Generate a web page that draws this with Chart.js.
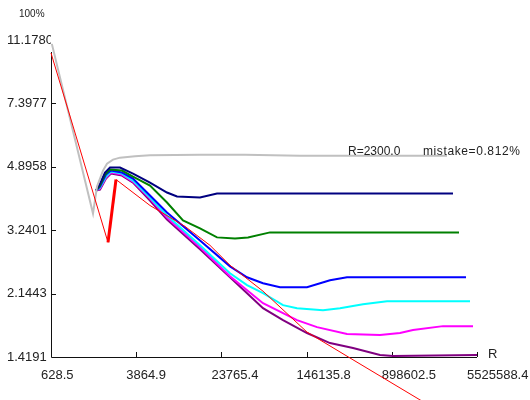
<!DOCTYPE html>
<html>
<head>
<meta charset="utf-8">
<script src="https://cdn.jsdelivr.net/npm/chart.js@4.4.1/dist/chart.umd.min.js"></script>
<style>
html,body{margin:0;padding:0;background:#fff;}
canvas{display:block;}
</style>
</head>
<body>
<canvas id="c" width="530" height="400"></canvas>
<script>
// axis ticks and their printed labels
const rTicks = [628.5, 3864.9, 23765.4, 146135.8, 898602.5, 5525588.4];
const rTickLabels = ['628.5', '3864.9', '23765.4', '146135.8', '898602.5', '5525588.4'];
const errTicks = [1.4191, 2.1443, 3.2401, 4.8958, 7.3977, 11.1780];
const errTickLabels = ['1.4191', '2.1443', '3.2401', '4.8958', '7.3977', '11.1780'];

// error curves: R on the horizontal axis, error (%) on the vertical axis
const grayR = [640, 1539, 1676, 1904, 2074, 2357, 2736, 3767, 5186, 15060, 39312, 126960, 2914000];
const grayErr = [10.9, 3.613, 4.305, 4.777, 4.998, 5.130, 5.197, 5.248, 5.282, 5.299, 5.299, 5.265, 5.265];

const redR = [628.5, 2119, 2513, 5186, 10938, 18635, 28549, 57690, 147383, 368620, 2509000];
const redErr = [10.27, 2.993, 4.506, 3.806, 3.321, 2.936, 2.578, 2.178, 1.669, 1.410, 0.993];

const navyR = [1640, 1786, 1987, 2211, 2736, 3610, 5186, 7452, 9224, 15060, 21640, 43724, 3312000];
const navyErr = [4.195, 4.390, 4.715, 4.871, 4.871, 4.685, 4.418, 4.141, 4.035, 4.009, 4.114, 4.114, 4.114];

const greenR = [1640, 1786, 1987, 2211, 2855, 3610, 5186, 7452, 10482, 15060, 21640, 31759, 41904, 66973, 3765000];
const greenErr = [4.195, 4.333, 4.654, 4.808, 4.777, 4.594, 4.333, 3.881, 3.453, 3.278, 3.092, 3.072, 3.092, 3.194, 3.194];

const blueR = [1640, 1786, 2030, 2258, 2855, 3610, 5186, 7452, 15060, 28549, 41022, 57690, 82886, 147383, 240650, 345740, 4370000];
const blueErr = [4.195, 4.305, 4.654, 4.777, 4.715, 4.535, 4.061, 3.637, 3.032, 2.561, 2.385, 2.294, 2.235, 2.235, 2.339, 2.385, 2.385];

const cyanR = [1640, 1786, 2030, 2258, 2855, 3610, 5186, 7452, 15060, 28549, 41022, 57690, 88367, 119100, 207340, 297850, 486330, 811080, 4760000];
const cyanErr = [4.195, 4.278, 4.594, 4.746, 4.685, 4.476, 4.009, 3.567, 2.936, 2.448, 2.265, 2.150, 1.989, 1.950, 1.925, 1.950, 2.002, 2.041, 2.041];

const magentaR = [1640, 1786, 2030, 2258, 2855, 3610, 5186, 7452, 15060, 28549, 57690, 119100, 182390, 345740, 698640, 1070150, 1411600, 2676000, 5074000];
const magentaErr = [4.195, 4.250, 4.565, 4.715, 4.654, 4.447, 3.983, 3.521, 2.898, 2.401, 2.015, 1.804, 1.724, 1.648, 1.637, 1.659, 1.691, 1.735, 1.735];

const purpleR = [1640, 1786, 2030, 2258, 2855, 3610, 5186, 7452, 15060, 28549, 57690, 88367, 147383, 240650, 392940, 698640, 921820, 5524600];
const purpleErr = [4.195, 4.222, 4.535, 4.685, 4.624, 4.418, 3.932, 3.475, 2.860, 2.385, 1.950, 1.804, 1.659, 1.554, 1.504, 1.4376, 1.4283, 1.4376];

const fontFamily = '"Liberation Sans", Arial, Helvetica, sans-serif';

function pts(xs, ys) {
  return xs.map((x, i) => ({ x: x, y: ys[i] }));
}

function curve(xs, ys, color, width, order) {
  return {
    data: pts(xs, ys),
    showLine: true,
    borderColor: color,
    backgroundColor: color,
    borderWidth: width,
    pointRadius: 0,
    tension: 0,
    clip: false,
    order: order
  };
}

// the red curve's jump back up after its minimum is drawn heavier
const red = curve(redR, redErr, '#ff0000', 1, 0);
red.segment = { borderWidth: c => (c.p0DataIndex === 1 ? 3 : 1) };

// axis lines, inward tick marks and the free-standing captions
const frame = {
  id: 'frame',
  beforeDatasetsDraw(chart) {
    const ctx = chart.ctx;
    const a = chart.chartArea;
    const xs = chart.scales.x;
    const ys = chart.scales.y;
    ctx.save();
    ctx.strokeStyle = '#111';
    ctx.lineWidth = 1;
    ctx.beginPath();
    // vertical axis stops a little below the top tick
    ctx.moveTo(a.left + 0.5, a.top + 12);
    ctx.lineTo(a.left + 0.5, a.bottom + 0.5);
    ctx.lineTo(a.right, a.bottom + 0.5);
    errTicks.forEach((v, i) => {
      if (i === 0 || i === errTicks.length - 1) return;
      const y = Math.round(ys.getPixelForValue(v)) + 0.5;
      ctx.moveTo(a.left, y);
      ctx.lineTo(a.left + 5, y);
    });
    rTicks.forEach((v, i) => {
      if (i === 0) return;
      const x = Math.round(xs.getPixelForValue(v)) + 0.5;
      ctx.moveTo(x, a.bottom);
      ctx.lineTo(x, a.bottom - 5);
    });
    ctx.stroke();
    ctx.restore();
  },
  afterDraw(chart) {
    const ctx = chart.ctx;
    const a = chart.chartArea;
    const ys = chart.scales.y;
    ctx.save();
    ctx.fillStyle = '#222';
    ctx.textBaseline = 'middle';
    ctx.textAlign = 'left';
    ctx.font = '10px ' + fontFamily;
    ctx.fillText('100%', 19, 14);
    ctx.font = '13px ' + fontFamily;
    ctx.fillText('R', a.right + 11, a.bottom - 3);
    ctx.font = '12px ' + fontFamily;
    const yCap = ys.getPixelForValue(grayErr[grayErr.length - 1]) - 4;
    ctx.fillText('R=2300.0', 348, yCap);
    ctx.letterSpacing = '0.6px';
    ctx.fillText('mistake=0.812%', 423, yCap);
    ctx.restore();
  }
};

new Chart(document.getElementById('c'), {
  type: 'scatter',
  data: {
    datasets: [
      red,
      curve(grayR, grayErr, '#c0c0c0', 2, 1),
      curve(navyR, navyErr, '#000080', 2, 2),
      curve(greenR, greenErr, '#008000', 2, 3),
      curve(blueR, blueErr, '#0000ff', 2, 4),
      curve(cyanR, cyanErr, '#00ffff', 2, 5),
      curve(magentaR, magentaErr, '#ff00ff', 2, 6),
      curve(purpleR, purpleErr, '#800080', 2, 7)
    ]
  },
  options: {
    responsive: false,
    animation: false,
    events: [],
    layout: { padding: { left: 7, top: 40, right: 53, bottom: 0 } },
    plugins: { legend: { display: false }, tooltip: { enabled: false } },
    scales: {
      x: {
        type: 'logarithmic',
        min: rTicks[0],
        max: rTicks[rTicks.length - 1],
        grid: { display: false, drawTicks: false },
        border: { display: false },
        afterBuildTicks: s => { s.ticks = rTicks.map(v => ({ value: v })); },
        afterFit: s => { s.height = 43; s.paddingLeft = 0; s.paddingRight = 0; },
        ticks: {
          autoSkip: false,
          maxRotation: 0,
          minRotation: 0,
          align: 'start',
          labelOffset: -10,
          padding: 11,
          color: '#222',
          font: { family: fontFamily, size: 13 },
          callback: (v, i) => rTickLabels[i]
        }
      },
      y: {
        type: 'logarithmic',
        min: errTicks[0],
        max: errTicks[errTicks.length - 1],
        grid: { display: false, drawTicks: false },
        border: { display: false },
        afterBuildTicks: s => { s.ticks = errTicks.map(v => ({ value: v })); },
        afterFit: s => { s.width = 44; s.paddingTop = 0; s.paddingBottom = 0; },
        ticks: {
          autoSkip: false,
          crossAlign: 'far',
          padding: 0,
          color: '#222',
          font: { family: fontFamily, size: 13 },
          callback: (v, i) => errTickLabels[i]
        }
      }
    }
  },
  plugins: [frame]
});
</script>
</body>
</html>
